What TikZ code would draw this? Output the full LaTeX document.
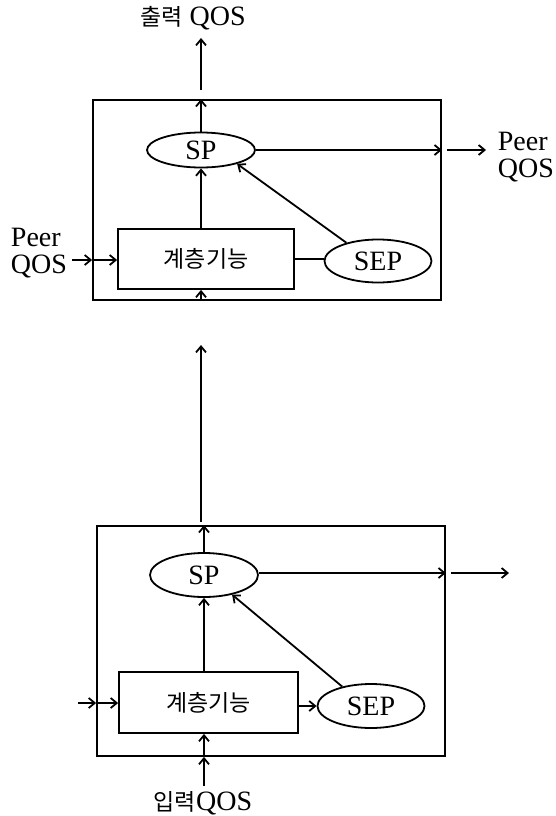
\documentclass[tikz,border=0pt]{standalone}
\usepackage{fontspec}
\setmainfont{Liberation Serif}
\newfontfamily\kr{Noto Sans CJK KR}
\usetikzlibrary{shapes.geometric,arrows.meta}
\begin{document}
\begin{tikzpicture}[x=1pt,y=-1pt,line width=1.8pt,
  arr/.style={-{Straight Barb[length=6pt,width=10pt]}},
  frame/.style={draw,rectangle,inner sep=0pt},
  proc/.style={draw,rectangle,inner sep=0pt,font=\kr\fontsize{23}{26}\selectfont},
  ell/.style={draw,ellipse,inner sep=0pt,font=\fontsize{28}{28}\selectfont},
  lbl/.style={inner sep=0pt,font=\fontsize{28}{27}\selectfont}]
\useasboundingbox (0,0) rectangle (556,816);
% ---------- top layer ----------
\node[frame,minimum width=348pt,minimum height=200pt] (box1) at (267,200) {};
\node[ell,minimum width=108pt,minimum height=35pt] (sp1) at (201,150) {SP};
\node[proc,minimum width=176pt,minimum height=60pt] (lf1) at (206,259) {계층기능};
\node[ell,minimum width=107pt,minimum height=43pt] (sep1) at (378,261) {SEP};
\node[lbl] (out1) at (193,18) {{\kr\fontsize{23}{26}\selectfont 출력} QOS};
\node[lbl,align=left,anchor=west] (peerR) at (497,157) {Peer\\QOS};
\node[lbl,align=left] (peerL) at (39,253) {Peer\\QOS};
\coordinate (o1a) at (201,90);
\coordinate (o1b) at (201,38);
\coordinate (r1a) at (447,150);
\coordinate (r1b) at (486,150);
\coordinate (l1a) at (72,260);
\draw[arr] (sp1.north) -- (sp1.north |- box1.north);
\draw[arr] (o1a) -- (o1b);
\draw[arr] (lf1.north -| sp1.south) -- (sp1.south);
\draw[arr] (box1.south -| sp1.south) -- (lf1.south -| sp1.south);
\draw[arr] (sp1.east) -- (sp1.east -| box1.east);
\draw[arr] (r1a) -- (r1b);
\draw[arr] (sep1.150) -- (sp1.-21);
\draw (lf1.east) -- (lf1.east -| sep1.west);
\draw[arr] (l1a) -- (l1a -| box1.west);
\draw[arr] ([xshift=2pt]l1a -| box1.west) -- (l1a -| lf1.west);
% ---------- middle ----------
\coordinate (ma) at (201,522);
\coordinate (mb) at (201,345);
\draw[arr] (ma) -- (mb);
% ---------- bottom layer ----------
\node[frame,minimum width=348pt,minimum height=230pt] (box2) at (271,641) {};
\node[ell,minimum width=108pt,minimum height=44pt] (sp2) at (204,575) {SP};
\node[proc,minimum width=179pt,minimum height=61pt] (lf2) at (208.5,702.5) {계층기능};
\node[ell,minimum width=107pt,minimum height=44pt] (sep2) at (371,706) {SEP};
\node[lbl] (in2) at (203,803) {{\kr\fontsize{23}{26}\selectfont 입력}QOS};
\coordinate (r2a) at (451,573);
\coordinate (r2b) at (509,573);
\coordinate (l2a) at (78,703);
\coordinate (b2a) at (204,786);
\draw[arr] (sp2.north) -- (sp2.north |- box2.north);
\draw[arr] (lf2.north -| sp2.south) -- (sp2.south);
\draw[arr] (b2a) -- (b2a |- box2.south);
\draw[arr] (b2a |- box2.south) -- (b2a |- lf2.south);
\draw[arr] (sp2.east |- r2a) -- (r2a -| box2.east);
\draw[arr] (r2a) -- (r2b);
\draw[arr] (sep2.146) -- (sp2.-35);
\draw[arr] (lf2.east |- sep2.west) -- (sep2.west);
\draw[arr] (l2a) -- (l2a -| box2.west);
\draw[arr] (l2a -| box2.west) -- (l2a -| lf2.west);
\end{tikzpicture}
\end{document}
